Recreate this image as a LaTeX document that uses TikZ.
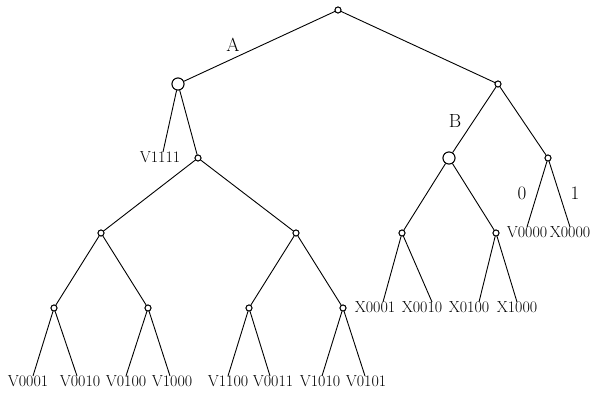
\documentclass[tikz,border=0pt]{standalone}
\usepackage{tikz}
\usetikzlibrary{positioning,calc}

\begin{document}
\begin{tikzpicture}[
  x=1pt, y=-1pt,
  edge/.style={line width=0.9pt},
  knot/.style={draw, circle, line width=0.9pt, inner sep=0pt, minimum size=6pt, fill=white},
  bigknot/.style={knot, minimum size=12pt},
  leaf/.style={font=\fontsize{16}{18}\selectfont, inner sep=0pt, anchor=north},
  tag/.style={font=\fontsize{19}{21}\selectfont, inner sep=0pt},
]
% canvas = 590 x 393, y grows downwards
\useasboundingbox (0,0) rectangle (590,393);

\def\ybot{375}  % top of the bottom row of labels
\def\ymid{301}  % top of the X labels
\def\yhi{226}   % top of V0000 / X0000

% --- Inner vertices
\node[knot]    (r) at (338,10)  {};
\node[bigknot] (a) at (178,84)  {};
\node[knot]    (c) at (498,84)  {};
\node[knot]    (d) at (198,158) {};
\node[bigknot] (b) at (449,158) {};
\node[knot]    (e) at (548,158) {};
\node[knot]    (f) at (101,233) {};
\node[knot]    (g) at (296,233) {};
\node[knot]    (h) at (402,233) {};
\node[knot]    (i) at (496,233) {};
\node[knot]    (j) at (54,308)  {};
\node[knot]    (k) at (148,308) {};
\node[knot]    (l) at (249,308) {};
\node[knot]    (m) at (343,308) {};

% --- Branches between inner vertices
\foreach \u/\w in {r/a, r/c, a/d, c/b, c/e, d/f, d/g, b/h, b/i, f/j, f/k, g/l, g/m} {
  \draw[edge] (\u) -- (\w);
}

% --- Leaves: parent / name / text / centre x / top y / shift of branch end
\foreach \p/\n/\t/\x/\y/\dx in {%
  a/v1111/V1111/160/151/3,
  j/v0001/V0001/28/\ybot/5,   j/v0010/V0010/80/\ybot/-3,
  k/v0100/V0100/126/\ybot/0,  k/v1000/V1000/172/\ybot/-2,
  l/v1100/V1100/228/\ybot/0,  l/v0011/V0011/273/\ybot/-3,
  m/v1010/V1010/320/\ybot/2,  m/v0101/V0101/366/\ybot/-1,
  h/x0001/X0001/375/\ymid/8,  h/x0010/X0010/422/\ymid/10,
  i/x0100/X0100/469/\ymid/10, i/x1000/X1000/517/\ymid/0,
  e/v0000/V0000/527/\yhi/0,   e/x0000/X0000/570/\yhi/0%
} {
  \node[leaf] (\n) at (\x,\y) {\t};
  \draw[edge] (\p) -- ([xshift=\dx pt, yshift=-1pt]\n.north);
}

% redraw vertices over the branch ends
\foreach \n in {r,c,d,e,f,g,h,i,j,k,l,m} {\node[knot] at (\n) {};}
\foreach \n in {a,b} {\node[bigknot] at (\n) {};}

% --- Branch tags
\node[tag] (ta) at (233,45)  {A};
\node[tag] (tb) at (455,121) {B};
\node[tag] (t0) at (522,193) {0};
\node[tag] (t1) at (575,193) {1};
\end{tikzpicture}
\end{document}
